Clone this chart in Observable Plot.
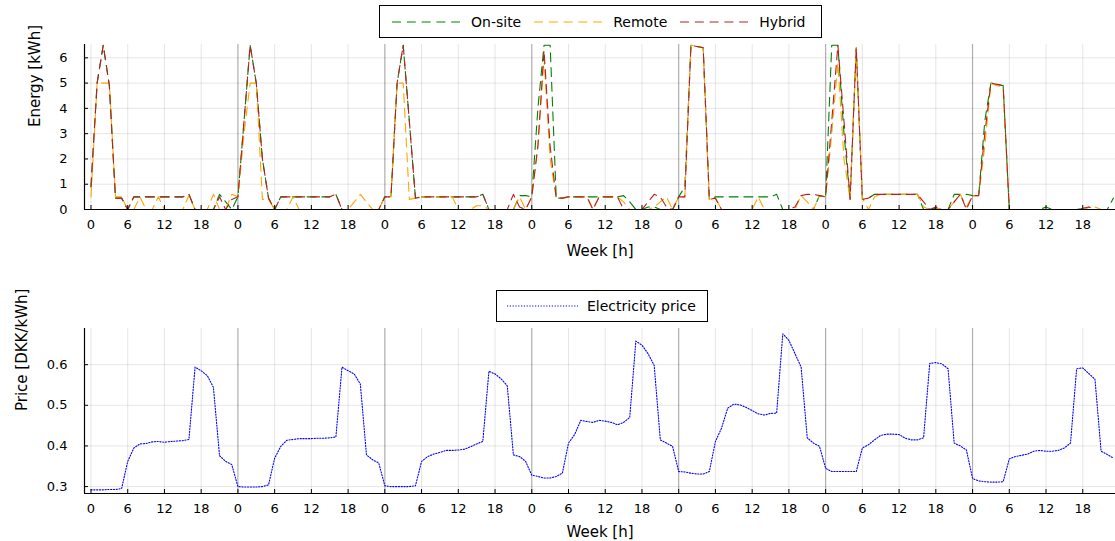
<!DOCTYPE html>
<html><head><meta charset="utf-8">
<script src="https://cdn.jsdelivr.net/npm/d3@7"></script>
<script src="https://cdn.jsdelivr.net/npm/@observablehq/plot@0.6"></script>
<style>
body{margin:0;background:#fff;font-family:"DejaVu Sans",sans-serif;}
#wrap{position:relative;width:1115px;height:541px;overflow:hidden;background:#fff;}
#wrap > svg{position:absolute;left:0;}
.legend{position:absolute;border:1px solid #000;background:#fff;display:flex;align-items:center;font-size:14px;box-sizing:border-box;color:#000;white-space:nowrap;}
.legend svg{display:block}
</style></head><body><div id="wrap"></div>
<script>
// ---- data ----
const hours = d3.range(168);
const seriesNames = ["On-site", "Remote", "Hybrid"];
const onSite = [
  0.9,5.0,6.5,4.9,0.45,0.45,0,0.5,0.5,0.5,0.5,0.5,0.5,0.5,0.5,0.5,0.6,0,0,0,0,0.6,0.3,0,
  0.5,3.5,6.5,5.0,2.0,0.45,0,0.5,0.5,0.5,0.5,0.5,0.5,0.5,0.5,0.5,0.6,0,0,0,0,0,0,0,
  0.5,0.5,5.0,6.5,3.5,0.45,0.5,0.5,0.5,0.5,0.5,0.5,0.5,0.5,0.5,0.5,0.6,0,0,0,0,0,0.55,0.55,
  0.5,4.0,6.5,6.5,0.45,0.45,0.5,0.5,0.5,0.5,0.5,0.5,0.5,0.5,0.5,0.55,0.3,0,0,0.1,0.1,0,0,0,
  0.5,0.9,6.5,6.45,6.4,0.4,0.5,0.5,0.5,0.5,0.5,0.5,0.5,0.5,0.5,0.5,0.6,0,0,0,0,0,0,0.55,
  0.5,6.5,6.5,3.0,0.4,6.4,0.4,0.45,0.6,0.6,0.6,0.6,0.6,0.6,0.6,0.6,0,0,0.05,0,0,0.6,0.6,0.6,
  0.55,0.55,3.5,5.0,4.95,4.9,0,0,0,0,0,0,0.1,0,0,0,0,0,0.05,0,0,0,0,0.45
];
const remote = [
  0.5,5.0,5.0,5.0,0.5,0.5,0,0,0.5,0,0,0.5,0,0,0,0,0.55,0,0,0,0.6,0,0,0.6,
  0.5,3.0,5.0,5.0,0.4,0.4,0,0,0,0.5,0,0,0,0,0,0,0,0,0,0.3,0.6,0.3,0,0,
  0.5,0.5,5.0,5.0,0.4,0.45,0.5,0.5,0.5,0.5,0.5,0.5,0,0,0,0.15,0.15,0,0,0,0,0,0.5,0,
  0.5,2.5,6.0,2.0,0.45,0.45,0.5,0.5,0.5,0.5,0,0.5,0.5,0.5,0.5,0.3,0,0,0,0,0.1,0.3,0.5,0,
  0.5,0.5,6.5,6.45,6.4,0.4,0.45,0,0,0,0,0,0,0.5,0,0,0,0,0,0,0.55,0.3,0,0.55,
  0.5,3.0,5.8,2.0,0.4,6.4,0.45,0,0.5,0.6,0.6,0.6,0.6,0.6,0.6,0.6,0.1,0,0.05,0,0,0.3,0.6,0.1,
  0.55,0.55,2.5,5.0,4.9,4.85,0,0,0,0,0,0,0,0,0,0,0,0,0,0.1,0.1,0,0,0
];
const hybrid = [
  0.9,5.0,6.5,4.9,0.45,0.45,0,0.5,0.5,0.5,0.5,0.5,0.5,0.5,0.5,0.5,0.6,0,0,0,0,0.5,0,0.4,
  0.5,3.5,6.5,5.0,2.0,0.45,0,0.5,0.5,0.5,0.5,0.5,0.5,0.5,0.5,0.5,0.6,0,0,0,0,0,0,0,
  0.5,0.5,5.0,6.5,3.5,0.45,0.5,0.5,0.5,0.5,0.5,0.5,0.5,0.5,0.5,0.5,0.6,0,0,0,0,0.6,0.1,0,
  0.5,2.5,6.3,2.5,0.45,0.45,0.5,0.5,0.5,0.5,0,0.5,0.5,0.5,0.5,0,0,0,0,0.3,0.6,0.5,0.1,0,
  0.5,0.5,6.5,6.45,6.4,0.4,0.45,0,0,0,0,0,0,0,0,0,0,0,0,0.1,0.55,0.6,0.6,0.55,
  0.5,3.5,6.5,3.5,0.4,6.4,0.4,0.45,0.6,0.6,0.6,0.6,0.6,0.6,0.6,0.6,0.3,0,0.1,0,0,0.3,0.6,0,
  0.55,0.55,3.0,5.0,4.95,4.9,0,0,0,0,0,0,0,0,0,0,0,0,0.05,0.1,0,0,0,0
];
const priceName = "Electricity price";
const price = [
  0.292,0.292,0.292,0.293,0.293,0.295,0.362,0.395,0.405,0.406,0.41,0.411,0.409,0.411,0.412,0.413,0.416,0.594,0.585,0.573,0.544,0.376,0.362,0.354,
  0.300,0.299,0.299,0.299,0.300,0.304,0.37,0.399,0.414,0.416,0.418,0.418,0.418,0.419,0.419,0.42,0.422,0.594,0.585,0.577,0.552,0.378,0.366,0.358,
  0.302,0.30,0.30,0.30,0.30,0.302,0.362,0.374,0.38,0.384,0.389,0.389,0.39,0.392,0.398,0.405,0.411,0.584,0.577,0.565,0.548,0.378,0.374,0.362,
  0.328,0.325,0.321,0.321,0.325,0.333,0.407,0.428,0.463,0.46,0.458,0.463,0.461,0.458,0.452,0.458,0.47,0.658,0.648,0.627,0.598,0.415,0.407,0.399,
  0.337,0.336,0.333,0.331,0.331,0.337,0.411,0.444,0.493,0.503,0.501,0.495,0.487,0.479,0.476,0.48,0.481,0.676,0.66,0.627,0.594,0.42,0.407,0.399,
  0.345,0.337,0.337,0.337,0.337,0.337,0.395,0.403,0.415,0.426,0.429,0.429,0.428,0.419,0.415,0.415,0.42,0.603,0.605,0.602,0.59,0.407,0.40,0.39,
  0.32,0.314,0.312,0.311,0.311,0.312,0.368,0.374,0.377,0.38,0.387,0.389,0.387,0.387,0.389,0.395,0.407,0.59,0.592,0.578,0.564,0.387,0.379,0.37
];
const xTicks = d3.range(0, 168, 6);
const dayBreaks = d3.range(24, 168, 24);
const energyTicks = [0, 1, 2, 3, 4, 5, 6];
const priceTicks = [0.3, 0.4, 0.5, 0.6];
const xLabel = "Week [h]";
const energyLabel = "Energy [kWh]";
const priceLabel = "Price [DKK/kWh]";

// ---- styles ----
const seriesColors = ["#008000", "#FFA500", "#B22222"];
const priceColor = "#0000FF";
const dash = "9,5.8";
const dot = "1.2,1.6";
const W = 1115, ML = 84, MR = 0;
const xDomain = [-1.06, 167.35];

function panel({series, yDomain, yTicks, yFmt, yLabel, yLabelDx, xLabelDy, height, mt, mb}) {
  const plotH = height - mt - mb, plotW = W - ML - MR;
  return Plot.plot({
    width: W, height, marginLeft: ML, marginRight: MR, marginTop: mt, marginBottom: mb,
    style: {fontFamily: "DejaVu Sans", fontSize: "13px", color: "#000", background: "transparent", overflow: "visible"},
    x: {domain: xDomain, axis: null},
    y: {domain: yDomain, axis: null},
    marks: [
      Plot.gridX(xTicks, {stroke: "#000", strokeOpacity: 0.1}),
      Plot.gridY(yTicks, {stroke: "#000", strokeOpacity: 0.1}),
      Plot.ruleX(dayBreaks, {stroke: "#000", strokeOpacity: 0.25, strokeWidth: 1.2}),
      ...series.map(s => Plot.line(hours, {x: d => d, y: d => s.values[d], stroke: s.color, strokeDasharray: s.dash, strokeWidth: 1.1, clip: true})),
      Plot.ruleY([yDomain[0]], {stroke: "#000", strokeWidth: 1.2}),
      Plot.ruleX([xDomain[0]], {stroke: "#000", strokeWidth: 1.2}),
      Plot.tickX(xTicks, {x: d => d, stroke: "#000", insetTop: plotH - 4}),
      Plot.tickY(yTicks, {y: d => d, stroke: "#000", insetRight: plotW - 4}),
      Plot.axisX(xTicks, {tickFormat: d => String(d % 24), tickSize: 0, tickPadding: 10, fontSize: 13, label: null}),
      Plot.axisY(yTicks, {tickFormat: yFmt, tickSize: 0, tickPadding: 17, fontSize: 13, label: null}),
      Plot.text([xLabel], {frameAnchor: "bottom", dy: xLabelDy, text: d => d, fontSize: 15}),
      Plot.text([yLabel], {frameAnchor: "left", dx: yLabelDx, rotate: -90, text: d => d, fontSize: 15})
    ]
  });
}

const wrap = document.getElementById("wrap");
const topPanel = panel({
  series: [onSite, remote, hybrid].map((values, i) => ({values, color: seriesColors[i], dash})),
  yDomain: [0, 6.527], yTicks: energyTicks, yFmt: d => String(d), yLabel: energyLabel, yLabelDx: -49, xLabelDy: 46,
  height: 270, mt: 44, mb: 61
});
topPanel.style.top = "0px";
wrap.appendChild(topPanel);
const bottomPanel = panel({
  series: [{values: price, color: priceColor, dash: dot}],
  yDomain: [0.283, 0.689], yTicks: priceTicks, yFmt: d3.format(".1f"), yLabel: priceLabel, yLabelDx: -62, xLabelDy: 43,
  height: 271, mt: 58, mb: 48
});
bottomPanel.style.top = "270px";
wrap.appendChild(bottomPanel);

function legend(items, box) {
  const div = document.createElement("div");
  div.className = "legend";
  Object.assign(div.style, {left: box.left + "px", top: box.top + "px", width: box.width + "px", height: box.height + "px", paddingLeft: box.pad + "px"});
  items.forEach((it, i) => {
    const ns = "http://www.w3.org/2000/svg";
    const s = document.createElementNS(ns, "svg");
    s.setAttribute("width", box.sample); s.setAttribute("height", 10);
    const l = document.createElementNS(ns, "line");
    l.setAttribute("x1", 0); l.setAttribute("x2", box.sample); l.setAttribute("y1", 5); l.setAttribute("y2", 5);
    l.setAttribute("stroke", it.color); l.setAttribute("stroke-width", 1.2); l.setAttribute("stroke-dasharray", it.dash);
    s.appendChild(l);
    s.style.marginRight = box.gap + "px";
    div.appendChild(s);
    const t = document.createElement("span");
    t.textContent = it.name;
    t.style.marginRight = i < items.length - 1 ? "13px" : "0";
    div.appendChild(t);
  });
  wrap.appendChild(div);
}
legend(seriesNames.map((name, i) => ({name, color: seriesColors[i], dash})), {left: 379, top: 5, width: 443, height: 33, pad: 12, sample: 68, gap: 11});
legend([{name: priceName, color: priceColor, dash: dot}], {left: 496, top: 290, width: 212, height: 32, pad: 10, sample: 71, gap: 9});
</script></body></html>
